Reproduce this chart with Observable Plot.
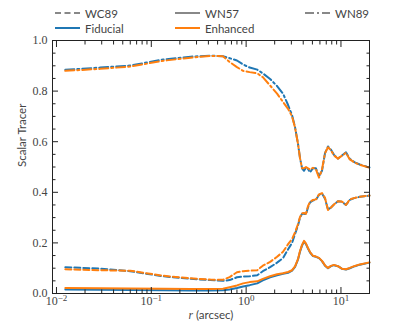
<!DOCTYPE html>
<html><head><meta charset="utf-8">
<script src="https://cdn.jsdelivr.net/npm/d3@7"></script>
<script src="https://cdn.jsdelivr.net/npm/@observablehq/plot@0.6"></script>
<style>
body{margin:0;background:#fff;}
#wrap{position:relative;width:411px;height:329px;}
#legend{position:absolute;left:0;top:0;width:411px;height:36px;font-family:Lato,sans-serif;font-size:11.5px;color:#444;z-index:2;}
.item{position:absolute;display:flex;align-items:center;height:14px;}
.item svg{margin-right:5px;}
</style></head><body>
<div id="wrap"><div id="chart"></div><div id="legend"></div></div>
<script>
// radius (arcsec)
const r = [0.0124,0.029,0.060,0.134,0.26,0.42,0.57,0.67,0.80,0.93,1.09,1.31,1.50,1.79,2.12,2.45,2.77,3.05,3.28,3.53,3.70,3.89,4.08,4.28,4.49,4.72,5.07,5.45,5.87,6.31,6.79,7.30,7.85,8.44,9.30,10.2,11.3,12.4,14.0,15.8,20];

const wn89Fiducial = [0.884,0.893,0.901,0.925,0.936,0.940,0.938,0.930,0.921,0.905,0.893,0.885,0.870,0.848,0.820,0.790,0.745,0.705,0.657,0.590,0.535,0.495,0.485,0.498,0.492,0.479,0.495,0.495,0.463,0.485,0.555,0.581,0.568,0.548,0.533,0.545,0.558,0.532,0.518,0.510,0.498];
const wn89Enhanced = [0.880,0.888,0.897,0.920,0.932,0.939,0.938,0.915,0.895,0.880,0.875,0.870,0.855,0.822,0.790,0.757,0.730,0.700,0.655,0.590,0.535,0.495,0.495,0.500,0.495,0.490,0.497,0.490,0.458,0.490,0.555,0.578,0.566,0.546,0.533,0.544,0.556,0.530,0.517,0.509,0.497];
const wc89Fiducial = [0.104,0.098,0.088,0.068,0.058,0.053,0.050,0.053,0.064,0.067,0.068,0.072,0.088,0.104,0.122,0.140,0.175,0.200,0.235,0.270,0.300,0.315,0.315,0.313,0.340,0.360,0.368,0.370,0.390,0.395,0.375,0.332,0.340,0.352,0.365,0.363,0.350,0.370,0.378,0.382,0.387];
const wc89Enhanced = [0.096,0.092,0.090,0.070,0.060,0.055,0.054,0.065,0.084,0.088,0.090,0.092,0.110,0.125,0.145,0.165,0.195,0.215,0.242,0.275,0.302,0.317,0.318,0.315,0.345,0.362,0.370,0.372,0.392,0.397,0.378,0.330,0.340,0.352,0.365,0.364,0.350,0.372,0.378,0.382,0.387];
const wn57Fiducial = [0.016,0.015,0.014,0.013,0.012,0.012,0.013,0.016,0.022,0.028,0.033,0.040,0.052,0.064,0.072,0.078,0.082,0.090,0.105,0.135,0.165,0.190,0.205,0.195,0.178,0.162,0.148,0.145,0.140,0.128,0.110,0.100,0.108,0.112,0.108,0.098,0.095,0.100,0.108,0.114,0.122];
const wn57Enhanced = [0.022,0.021,0.020,0.019,0.018,0.018,0.019,0.025,0.032,0.040,0.045,0.048,0.058,0.068,0.076,0.080,0.085,0.092,0.107,0.137,0.168,0.192,0.208,0.197,0.180,0.164,0.149,0.146,0.141,0.129,0.111,0.101,0.109,0.113,0.108,0.098,0.096,0.101,0.109,0.115,0.123];

const models = ["WC89","WN57","WN89"];
const runs = ["Fiducial","Enhanced"];
const xMajor = [0.01,0.1,1,10];
const yMajor = [0,0.2,0.4,0.6,0.8,1.0];

// styles
const runColor = {Fiducial:"#1f77b4", Enhanced:"#ff7f0e"};
const modelDash = {WC89:"6,3", WN57:null, WN89:"9,3,2,3"};
const seriesList = [
  {model:"WC89", run:"Fiducial", values:wc89Fiducial},
  {model:"WN57", run:"Fiducial", values:wn57Fiducial},
  {model:"WN89", run:"Fiducial", values:wn89Fiducial},
  {model:"WC89", run:"Enhanced", values:wc89Enhanced},
  {model:"WN57", run:"Enhanced", values:wn57Enhanced},
  {model:"WN89", run:"Enhanced", values:wn89Enhanced}
];

// legend
const legendItems = [
  {label:"WC89", color:"#888", dash:"6,3.5", left:55, top:6},
  {label:"WN57", color:"#888", dash:null, left:175, top:6},
  {label:"WN89", color:"#888", dash:"9,3,2,3", left:305, top:6},
  {label:"Fiducial", color:runColor.Fiducial, dash:null, left:55, top:21},
  {label:"Enhanced", color:runColor.Enhanced, dash:null, left:175, top:21}
];
const leg = document.getElementById("legend");
for (const it of legendItems) {
  const d = document.createElement("div");
  d.className = "item";
  d.style.left = it.left + "px"; d.style.top = it.top + "px";
  d.innerHTML = `<svg width="25" height="6"><line x1="0" x2="25" y1="3" y2="3" stroke="${it.color}" stroke-width="2" ${it.dash ? `stroke-dasharray="${it.dash}"` : ""}/></svg><span>${it.label}</span>`;
  leg.appendChild(d);
}

const xMinor = [];
for (const p of xMajor) for (let k = 2; k <= 9; k++) { const v = k * p; if (v <= 20) xMinor.push(v); }
const yMinor = d3.range(0, 1.0001, 0.05).filter(v => !yMajor.some(m => Math.abs(m - v) < 1e-6));

const powFmt = d => "10^" + String(Math.round(Math.log10(d)));

const font = "Lato, sans-serif";
const tickFont = "'Liberation Serif', serif";
const ink = "#222";

const lineMarks = seriesList.map(s => Plot.line(s.values.map((v, i) => ({r: r[i], v})), {
  x: "r", y: "v", stroke: runColor[s.run], strokeWidth: 2,
  strokeDasharray: modelDash[s.model] ?? undefined, curve: "linear"
}));

const tickAxes = [];
for (const anchor of ["bottom","top"]) {
  tickAxes.push(Plot.axisX(xMajor, {anchor, tickSize:-6, tickFormat:() => "", label:null, stroke:ink}));
  tickAxes.push(Plot.axisX(xMinor, {anchor, tickSize:-3.5, tickFormat:() => "", label:null, stroke:ink}));
}
for (const anchor of ["left","right"]) {
  tickAxes.push(Plot.axisY(yMajor, {anchor, tickSize:-6, tickFormat:() => "", label:null, stroke:ink}));
  tickAxes.push(Plot.axisY(yMinor, {anchor, tickSize:-3.5, tickFormat:() => "", label:null, stroke:ink}));
}

const chart = Plot.plot({
  width: 411, height: 329,
  marginLeft: 52, marginRight: 42, marginTop: 40, marginBottom: 36,
  style: {fontFamily: font, background: "transparent"},
  x: {type: "log", domain: [0.00908, 20]},
  y: {domain: [0, 1]},
  marks: [
    ...lineMarks,
    ...tickAxes,
    Plot.axisX(xMajor, {anchor:"bottom", tickSize:0, tickPadding:3, tickFormat: powFmt, label:null, fontFamily: tickFont, fontSize: 12, fill:"#444"}),
    Plot.axisY(yMajor, {anchor:"left", tickSize:0, tickPadding:5, tickFormat: d => d.toFixed(1), label:null, fontFamily: tickFont, fontSize: 12, fill:"#444"}),
    Plot.frame({stroke: ink, strokeWidth: 1}),
    Plot.text(["Scalar Tracer"], {frameAnchor:"left", dx:-30, rotate:-90, fontSize:11.5, fill:"#444", fontFamily: font}),
    Plot.text(["r (arcsec)"], {frameAnchor:"bottom", dy:25, fontSize:11.5, fill:"#444", fontFamily: font})
  ]
});
document.getElementById("chart").appendChild(chart);
// italic r in x label
d3.select(chart).selectAll("text").filter(function(){ return this.textContent === "r (arcsec)"; })
  .each(function(){ const t = d3.select(this); t.text(""); t.append("tspan").attr("font-style","italic").attr("font-family","'Liberation Serif', serif").text("r"); t.append("tspan").text(" (arcsec)"); });
// superscript exponents in x tick labels
d3.select(chart).selectAll("text").filter(function(){ return /^10\^/.test(this.textContent); })
  .each(function(){
    const t = d3.select(this); const e = this.textContent.slice(3).replace("-", "\u2212");
    t.text(""); t.append("tspan").text("10");
    t.append("tspan").attr("dy", "-0.45em").attr("font-size", "9").text(e);
  });
</script>
</body></html>
